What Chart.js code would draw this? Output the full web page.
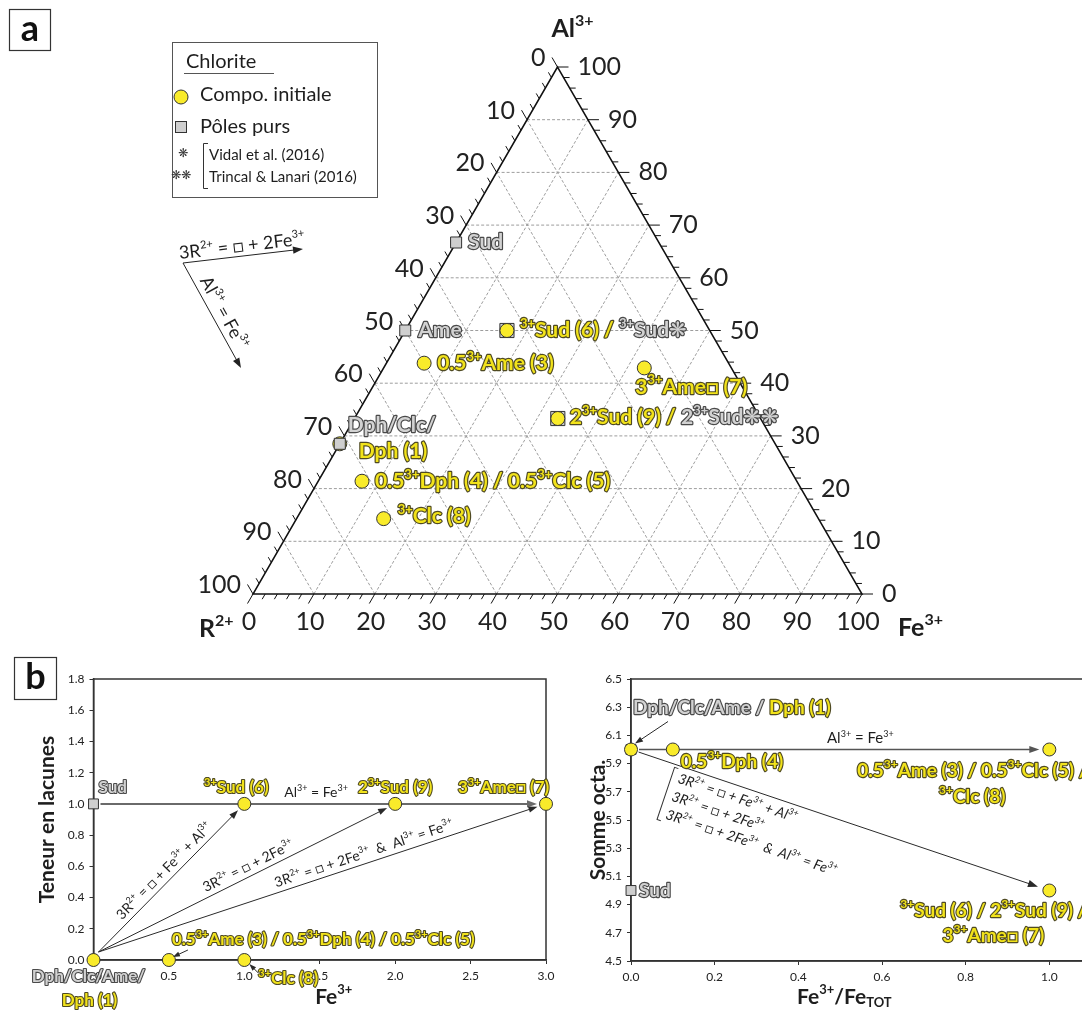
<!DOCTYPE html>
<html>
<head>
<meta charset="utf-8">
<script src="https://cdn.jsdelivr.net/npm/chart.js@4.4.1/dist/chart.umd.min.js"></script>
<style>
html, body { margin: 0; padding: 0; background: #fff; overflow: hidden; width: 1082px; height: 1016px; }
.p { position: absolute; }
</style>
</head>
<body>
<div class="p" style="left:0;top:0;width:1082px;height:645px"><canvas id="tern" width="1082" height="645"></canvas></div>
<div class="p" style="left:0;top:645px;width:565px;height:371px"><canvas id="lac" width="565" height="371"></canvas></div>
<div class="p" style="left:565px;top:645px;width:620px;height:371px"><canvas id="oct" width="620" height="371"></canvas></div>
<script>
// ---- a) ternaire R2+ - Al3+ - Fe3+ (%) ----
const initNoms = ['Dph (1)', '0.5^{3+}Ame (3)', '0.5^{3+}Dph (4) / 0.5^{3+}Clc (5)', '^{3+}Sud (6) / ', '3^{3+}Ame□ (7)', '^{3+}Clc (8)', '2^{3+}Sud (9) / '];
const initR  = [71.5, 50.0, 71.4, 33.3, 14.3, 71.4, 33.3];
const initAl = [28.5, 43.8, 21.4, 50.0, 42.9, 14.3, 33.3];
const initFe = [ 0.0,  6.2,  7.2, 16.7, 42.8, 14.3, 33.4];

const polesNoms = ['Sud', 'Ame', 'Dph/Clc/'];
const polesR  = [33.3, 50.0, 71.5];
const polesAl = [66.7, 50.0, 28.5];
const polesFe = [0, 0, 0];

const litNoms = ['^{3+}Sud❋', '2^{3+}Sud❋❋'];
const litR  = [33.3, 33.3];
const litAl = [50.0, 33.3];
const litFe = [16.7, 33.4];

const ternTicks = [0, 10, 20, 30, 40, 50, 60, 70, 80, 90, 100];

// ---- b) gauche : teneur en lacunes vs Fe3+ ----
const lacFe  = [0, 0.5, 1.0, 1.0, 2.0, 3.0];
const lacVal = [0, 0, 0, 1.0, 1.0, 1.0];
const lacSudFe = [0];
const lacSudVal = [1.0];
const lacTicksX = [0, 0.5, 1.0, 1.5, 2.0, 2.5, 3.0];
const lacTicksY = [0, 0.2, 0.4, 0.6, 0.8, 1.0, 1.2, 1.4, 1.6, 1.8];

// ---- b) droite : somme octa. vs Fe3+/FeTOT ----
const octRatio = [0, 0.1, 1.0, 1.0];
const octSomme = [6.0, 6.0, 6.0, 5.0];
const octPolesRatio = [0, 0];
const octPolesSomme = [6.0, 5.0];
const octTicksX = [0, 0.2, 0.4, 0.6, 0.8, 1.0];
const octTicksY = [4.5, 4.7, 4.9, 5.1, 5.3, 5.5, 5.7, 5.9, 6.1, 6.3, 6.5];

const FONT = "Lato, 'Open Sans', 'DejaVu Sans', sans-serif";
const JAUNE = '#f9eb2a';
const GRIS = '#cfcfcf';

const STY = {
  yel: { fill: '#f2e31b', stroke: '#4f4a22', weight: 'bold' },
  gry: { fill: '#d2d2d2', stroke: '#4a4a4a', weight: 'bold' },
  blk: { fill: '#1e1e1e', stroke: null, weight: 'normal' },
  bld: { fill: '#1e1e1e', stroke: null, weight: 'bold' }
};

// "^{..}" = exposant, "_{..}" = indice
function decoupe(s) {
  const out = []; let i = 0, buf = '';
  while (i < s.length) {
    if ((s[i] === '^' || s[i] === '_') && s[i + 1] === '{') {
      if (buf) { out.push({ t: buf, k: 'n' }); buf = ''; }
      const j = s.indexOf('}', i);
      out.push({ t: s.slice(i + 2, j), k: s[i] === '^' ? 'sup' : 'sub' });
      i = j + 1;
    } else { buf += s[i]; i++; }
  }
  if (buf) out.push({ t: buf, k: 'n' });
  return out;
}

function texte(ctx, morceaux, x, y, o) {
  o = o || {};
  const size = o.size || 18;
  const runs = [];
  morceaux.forEach(([mk, sk]) => decoupe(mk).forEach(r => runs.push(Object.assign(r, { st: STY[sk] }))));
  const police = r => (o.italic ? 'italic ' : '') + r.st.weight + ' ' +
    (r.k === 'n' ? size : Math.round(size * 0.62)) + 'px ' + FONT;
  ctx.save();
  ctx.translate(x, y);
  if (o.angle) ctx.rotate(o.angle);
  let w = 0;
  runs.forEach(r => { ctx.font = police(r); r.w = ctx.measureText(r.t).width; w += r.w; });
  const x0 = o.align === 'center' ? -w / 2 : o.align === 'right' ? -w : 0;
  ctx.textBaseline = 'middle'; ctx.textAlign = 'left'; ctx.lineJoin = 'round';
  ['stroke', 'fill'].forEach(pass => {
    let px = x0;
    runs.forEach(r => {
      ctx.font = police(r);
      const dy = r.k === 'sup' ? -size * 0.32 : r.k === 'sub' ? size * 0.3 : 0;
      if (pass === 'stroke' && r.st.stroke) {
        ctx.strokeStyle = r.st.stroke; ctx.lineWidth = o.lw || 2.4; ctx.strokeText(r.t, px, dy);
      }
      if (pass === 'fill') { ctx.fillStyle = r.st.fill; ctx.fillText(r.t, px, dy); }
      px += r.w;
    });
  });
  ctx.restore();
  return w;
}

function fleche(ctx, x1, y1, x2, y2, col, lw, head) {
  head = head || 9;
  const a = Math.atan2(y2 - y1, x2 - x1);
  ctx.save();
  ctx.strokeStyle = col; ctx.fillStyle = col; ctx.lineWidth = lw;
  ctx.beginPath(); ctx.moveTo(x1, y1);
  ctx.lineTo(x2 - Math.cos(a) * head * 0.7, y2 - Math.sin(a) * head * 0.7); ctx.stroke();
  ctx.beginPath(); ctx.moveTo(x2, y2);
  ctx.lineTo(x2 - head * Math.cos(a) + head * 0.36 * Math.sin(a), y2 - head * Math.sin(a) - head * 0.36 * Math.cos(a));
  ctx.lineTo(x2 - head * Math.cos(a) - head * 0.36 * Math.sin(a), y2 - head * Math.sin(a) + head * 0.36 * Math.cos(a));
  ctx.closePath(); ctx.fill();
  ctx.restore();
}

// fleche entre deux points avec un ecart au depart et a l'arrivee
function flecheEntre(ctx, p, q, g1, g2, col, lw, head) {
  const d = Math.hypot(q.x - p.x, q.y - p.y), ux = (q.x - p.x) / d, uy = (q.y - p.y) / d;
  fleche(ctx, p.x + ux * g1, p.y + uy * g1, q.x - ux * g2, q.y - uy * g2, col, lw, head);
}

function boite(ctx, lettre, x, y, s) {
  ctx.save();
  ctx.strokeStyle = '#333'; ctx.lineWidth = 1.2;
  ctx.strokeRect(x, y, s, s);
  ctx.fillStyle = '#111'; ctx.font = 'bold 36px ' + FONT;
  ctx.textAlign = 'center'; ctx.textBaseline = 'middle';
  ctx.fillText(lettre, x + s / 2, y + s / 2 - 1);
  ctx.restore();
}

// ternaire -> coordonnees cartesiennes (x = Fe + Al/2, y = Al)
function ternXY(r, al, fe) {
  const s = r + al + fe;
  return { x: (fe + al / 2) * 100 / s, y: al * 100 / s };
}
function ternPix(chart) {
  const xs = chart.scales.x, ys = chart.scales.y;
  return (r, al, fe) => {
    const t = ternXY(r, al, fe);
    return { x: xs.getPixelForValue(t.x), y: ys.getPixelForValue(t.y) };
  };
}

const pluginTernaire = {
  id: 'ternaire',
  beforeDatasetsDraw(chart) {
    const ctx = chart.ctx, P = ternPix(chart);
    const seg = (a, b) => { ctx.beginPath(); ctx.moveTo(a.x, a.y); ctx.lineTo(b.x, b.y); ctx.stroke(); };
    ctx.save();
    ctx.strokeStyle = '#9d9d9d'; ctx.lineWidth = 1; ctx.setLineDash([3, 2]);
    ternTicks.slice(1, -1).forEach(k => {
      seg(P(100 - k, k, 0), P(0, k, 100 - k));
      seg(P(100 - k, 0, k), P(0, 100 - k, k));
      seg(P(k, 0, 100 - k), P(k, 100 - k, 0));
    });
    ctx.setLineDash([]);
    ctx.strokeStyle = '#111'; ctx.lineWidth = 1.5;
    const A = P(0, 100, 0), B = P(100, 0, 0), C = P(0, 0, 100);
    ctx.beginPath(); ctx.moveTo(A.x, A.y); ctx.lineTo(B.x, B.y); ctx.lineTo(C.x, C.y); ctx.closePath(); ctx.stroke();
    // graduations
    ctx.lineWidth = 1;
    for (let v = 0; v <= 100; v += 2) {
      const L = v % 10 === 0 ? 11 : 6;
      const b = P(100 - v, 0, v), r = P(0, v, 100 - v), l = P(v, 100 - v, 0);
      seg(b, { x: b.x - 0.5 * L, y: b.y + 0.866 * L });
      seg(r, { x: r.x + L, y: r.y });
      seg(l, { x: l.x - 0.5 * L, y: l.y - 0.866 * L });
    }
    ctx.fillStyle = '#222'; ctx.font = '25px ' + FONT; ctx.textBaseline = 'middle';
    ternTicks.forEach(v => {
      const b = P(100 - v, 0, v), r = P(0, v, 100 - v), l = P(v, 100 - v, 0);
      ctx.textAlign = 'center'; ctx.fillText(String(v), b.x - 4, b.y + 28);
      ctx.textAlign = 'left'; ctx.fillText(String(v), r.x + 20, r.y);
      ctx.textAlign = 'right'; ctx.fillText(String(v), l.x - 12, l.y - 9);
    });
    ctx.restore();
    texte(ctx, [['Al^{3+}', 'bld']], A.x - 6, A.y - 38, { size: 25 });
    texte(ctx, [['R^{2+}', 'bld']], B.x - 54, B.y + 35, { size: 25 });
    texte(ctx, [['Fe^{3+}', 'bld']], C.x + 36, C.y + 34, { size: 25 });
  },
  afterDatasetsDraw(chart) {
    const ctx = chart.ctx, P = ternPix(chart);
    const pi = i => P(initR[i], initAl[i], initFe[i]);
    const pp = i => P(polesR[i], polesAl[i], polesFe[i]);
    const o = { size: 21 };
    // etiquettes des poles purs
    let q = pp(0); texte(ctx, [[polesNoms[0], 'gry']], q.x + 12, q.y, o);
    q = pp(1); texte(ctx, [[polesNoms[1], 'gry']], q.x + 13, q.y, o);
    q = pp(2); texte(ctx, [[polesNoms[2], 'gry']], q.x + 8, q.y - 19, o);
    // etiquettes des compositions initiales
    q = pi(0); texte(ctx, [[initNoms[0], 'yel']], q.x + 19, q.y + 7, o);
    q = pi(1); texte(ctx, [[initNoms[1], 'yel']], q.x + 13, q.y, o);
    q = pi(2); texte(ctx, [[initNoms[2], 'yel']], q.x + 13, q.y, o);
    q = pi(3); texte(ctx, [[initNoms[3], 'yel'], [litNoms[0], 'gry']], q.x + 13, q.y, o);
    q = pi(4); texte(ctx, [[initNoms[4], 'yel']], q.x - 9, q.y + 19, o);
    q = pi(5); texte(ctx, [[initNoms[5], 'yel']], q.x + 14, q.y - 2, o);
    q = pi(6); texte(ctx, [[initNoms[6], 'yel'], [litNoms[1], 'gry']], q.x + 12, q.y - 1, o);

    // legende
    ctx.save();
    ctx.strokeStyle = '#555'; ctx.lineWidth = 1;
    ctx.strokeRect(172.5, 42.5, 205, 155);
    ctx.fillStyle = '#1e1e1e'; ctx.font = '20px ' + FONT; ctx.textBaseline = 'middle'; ctx.textAlign = 'left';
    ctx.fillText('Chlorite', 186, 62);
    ctx.beginPath(); ctx.moveTo(184, 73.5); ctx.lineTo(274, 73.5); ctx.stroke();
    ctx.fillText('Compo. initiale', 200, 95);
    ctx.fillText('Pôles purs', 200, 127);
    ctx.beginPath(); ctx.arc(181, 97, 7, 0, Math.PI * 2);
    ctx.fillStyle = JAUNE; ctx.fill(); ctx.strokeStyle = '#333'; ctx.stroke();
    ctx.fillStyle = GRIS; ctx.fillRect(175.5, 121.5, 11, 11); ctx.strokeRect(175.5, 121.5, 11, 11);
    ctx.fillStyle = '#333'; ctx.font = '12px ' + FONT; ctx.textAlign = 'center';
    ctx.fillText('❋', 183, 153); ctx.fillText('❋❋', 181, 175);
    ctx.beginPath(); ctx.moveTo(208, 143.5); ctx.lineTo(203.5, 143.5); ctx.lineTo(203.5, 188.5); ctx.lineTo(208, 188.5); ctx.stroke();
    ctx.fillStyle = '#1e1e1e'; ctx.font = '15px ' + FONT; ctx.textAlign = 'left';
    ctx.fillText('Vidal et al. (2016)', 209, 155);
    ctx.fillText('Trincal & Lanari (2016)', 209, 177);
    ctx.restore();

    // vecteurs d'echange
    const O = { x: 183, y: 263 };
    fleche(ctx, O.x, O.y, 303, 249, '#222', 1, 10);
    fleche(ctx, O.x, O.y, 241, 368, '#222', 1, 10);
    texte(ctx, [['3R^{2+} = □ + 2Fe^{3+}', 'blk']], 242, 246, { size: 18, align: 'center', angle: Math.atan2(-14, 120) });
    texte(ctx, [['Al^{3+} = Fe^{3+}', 'blk']], 224, 313, { size: 18, align: 'center', angle: Math.atan2(105, 58) });

    boite(ctx, 'a', 9.5, 9.5, 41);
  }
};

new Chart(document.getElementById('tern'), {
  type: 'scatter',
  data: {
    datasets: [
      {
        label: 'Pôles purs',
        data: polesR.map((r, i) => ternXY(r, polesAl[i], polesFe[i])),
        pointStyle: 'rect', pointRadius: 7.8, backgroundColor: GRIS, borderColor: '#333', borderWidth: 1, clip: false
      },
      {
        label: 'Compo. initiale',
        data: initR.map((r, i) => ternXY(r, initAl[i], initFe[i])),
        pointStyle: 'circle', pointRadius: 7, backgroundColor: JAUNE, borderColor: '#333', borderWidth: 1, clip: false
      },
      {
        label: 'Littérature',
        data: litR.map((r, i) => ternXY(r, litAl[i], litFe[i])),
        pointStyle: 'rect', pointRadius: 10, backgroundColor: GRIS, borderColor: '#333', borderWidth: 1, clip: false
      }
    ]
  },
  options: {
    responsive: false,
    animation: false,
    layout: { autoPadding: false, padding: { left: 253, right: 220, top: 67, bottom: 51 } },
    plugins: { legend: { display: false }, tooltip: { enabled: false } },
    scales: {
      x: { type: 'linear', min: 0, max: 100, display: false },
      y: { type: 'linear', min: 0, max: 100, display: false }
    }
  },
  plugins: [pluginTernaire]
});

// ---- axes communs des deux graphiques du bas ----
function axe(min, max, ticks, taille, horizontal) {
  return {
    type: 'linear', min: min, max: max,
    afterBuildTicks: s => { s.ticks = ticks.map(v => ({ value: v })); },
    afterFit: s => { if (horizontal) s.height = taille; else s.width = taille; },
    ticks: { padding: 5, color: '#222', font: { family: FONT, size: 12 }, callback: v => v.toFixed(1) },
    grid: { display: true, drawOnChartArea: false, drawTicks: true, tickLength: 4, color: '#333' },
    border: { display: true, color: '#333', width: 1.5 }
  };
}

function cadre(chart) {
  const a = chart.chartArea, ctx = chart.ctx;
  ctx.save(); ctx.strokeStyle = '#333'; ctx.lineWidth = 1.5;
  ctx.strokeRect(a.left, a.top, a.right - a.left, a.bottom - a.top);
  ctx.restore();
}

const pluginLacunes = {
  id: 'lacunes',
  beforeDatasetsDraw(chart) {
    const ctx = chart.ctx, xs = chart.scales.x, ys = chart.scales.y;
    const P = (x, y) => ({ x: xs.getPixelForValue(x), y: ys.getPixelForValue(y) });
    cadre(chart);
    flecheEntre(ctx, P(lacSudFe[0], lacSudVal[0]), P(lacFe[5], lacVal[5]), 7, 9, '#6a6a6a', 2, 10);
    const o = P(lacFe[0], lacVal[0]);
    const dep = { x: o.x + 5, y: o.y - 8 };
    const eqs = ['3R^{2+} = □ + Fe^{3+} + Al^{3+}', '3R^{2+} = □ + 2Fe^{3+}', '3R^{2+} = □ + 2Fe^{3+}  &  Al^{3+} = Fe^{3+}'];
    const tt = [0.5, 0.52, 0.6];
    [3, 4, 5].forEach((k, j) => {
      const c = P(lacFe[k], lacVal[k]);
      flecheEntre(ctx, dep, c, 0, 9, '#2a2a2a', 1, 9);
      const dx = c.x - dep.x, dy = c.y - dep.y, d = Math.hypot(dx, dy);
      const mx = dep.x + dx * tt[j] + 10 * dy / d, my = dep.y + dy * tt[j] - 10 * dx / d;
      texte(ctx, [[eqs[j], 'blk']], mx, my, { size: 14, align: 'center', angle: Math.atan2(dy, dx) });
    });
  },
  afterDatasetsDraw(chart) {
    const ctx = chart.ctx, xs = chart.scales.x, ys = chart.scales.y, a = chart.chartArea;
    const P = (x, y) => ({ x: xs.getPixelForValue(x), y: ys.getPixelForValue(y) });
    const o = { size: 17, lw: 2.2 };
    let q = P(lacSudFe[0], lacSudVal[0]);
    texte(ctx, [['Sud', 'gry']], q.x + 5, q.y - 16, o);
    q = P(lacFe[3], lacVal[3]);
    texte(ctx, [['^{3+}Sud (6)', 'yel']], q.x - 8, q.y - 16, Object.assign({ align: 'center' }, o));
    texte(ctx, [['Al^{3+} = Fe^{3+}', 'blk']], q.x + 40, q.y - 11, { size: 14 });
    q = P(lacFe[4], lacVal[4]);
    texte(ctx, [['2^{3+}Sud (9)', 'yel']], q.x, q.y - 16, Object.assign({ align: 'center' }, o));
    q = P(lacFe[5], lacVal[5]);
    texte(ctx, [['3^{3+}Ame□ (7)', 'yel']], q.x - 88, q.y - 16, o);
    q = P(lacFe[1], lacVal[1]);
    texte(ctx, [['0.5^{3+}Ame (3) / 0.5^{3+}Dph (4) / 0.5^{3+}Clc (5)', 'yel']], q.x + 3, q.y - 20, o);
    fleche(ctx, q.x + 19, q.y - 10, q.x + 4, q.y - 3, '#2a2a2a', 1, 7);
    q = P(lacFe[2], lacVal[2]);
    texte(ctx, [['^{3+}Clc (8)', 'yel']], q.x + 14, q.y + 19, o);
    fleche(ctx, q.x + 14, q.y + 13, q.x + 5, q.y + 4, '#2a2a2a', 1, 7);
    q = P(lacFe[0], lacVal[0]);
    texte(ctx, [['Dph/Clc/Ame/', 'gry']], q.x - 5, q.y + 17, Object.assign({ align: 'center' }, o));
    texte(ctx, [['Dph (1)', 'yel']], q.x - 4, q.y + 41, Object.assign({ align: 'center' }, o));
    // titres des axes
    texte(ctx, [['Teneur en lacunes', 'bld']], a.left - 46, (a.top + a.bottom) / 2, { size: 21, align: 'center', angle: -Math.PI / 2 });
    texte(ctx, [['Fe^{3+}', 'bld']], (a.left + a.right) / 2 + 14, a.bottom + 37, { size: 21, align: 'center' });
    boite(ctx, 'b', 14.5, 12.5, 42);
  }
};

new Chart(document.getElementById('lac'), {
  type: 'scatter',
  data: {
    datasets: [
      {
        label: 'Pôles purs',
        data: lacSudFe.map((x, i) => ({ x: x, y: lacSudVal[i] })),
        pointStyle: 'rect', pointRadius: 7, backgroundColor: GRIS, borderColor: '#333', borderWidth: 1, clip: false
      },
      {
        label: 'Compo. initiale',
        data: lacFe.map((x, i) => ({ x: x, y: lacVal[i] })),
        pointStyle: 'circle', pointRadius: 6.5, backgroundColor: JAUNE, borderColor: '#333', borderWidth: 1, clip: false
      }
    ]
  },
  options: {
    responsive: false,
    animation: false,
    layout: { autoPadding: false, padding: { left: 0, right: 19, top: 34, bottom: 0 } },
    plugins: { legend: { display: false }, tooltip: { enabled: false } },
    scales: {
      x: axe(0, 3, lacTicksX, 56, true),
      y: axe(0, 1.8, lacTicksY, 93.5, false)
    }
  },
  plugins: [pluginLacunes]
});

const pluginOcta = {
  id: 'octa',
  beforeDatasetsDraw(chart) {
    const ctx = chart.ctx, xs = chart.scales.x, ys = chart.scales.y;
    const P = (x, y) => ({ x: xs.getPixelForValue(x), y: ys.getPixelForValue(y) });
    cadre(chart);
    const o = P(octRatio[0], octSomme[0]);
    flecheEntre(ctx, o, P(octRatio[2], octSomme[2]), 8, 10, '#555', 1.5, 10);
    const f = P(octRatio[3], octSomme[3]);
    flecheEntre(ctx, o, f, 8, 12, '#2a2a2a', 1, 10);
    // equations en italique le long de la diagonale
    const ang = Math.atan2(f.y - o.y, f.x - o.x);
    ctx.save();
    ctx.translate(o.x, o.y); ctx.rotate(ang);
    ctx.strokeStyle = '#333'; ctx.lineWidth = 1;
    ctx.beginPath(); ctx.moveTo(51, 3); ctx.lineTo(47, 3); ctx.lineTo(47, 58); ctx.lineTo(51, 58); ctx.stroke();
    ctx.restore();
    const eqs = ['3R^{2+} = □ + Fe^{3+} + Al^{3+}', '3R^{2+} = □ + 2Fe^{3+}', '3R^{2+} = □ + 2Fe^{3+}  &  Al^{3+} = Fe^{3+}'];
    [12, 31, 50].forEach((v, j) => {
      const u = 54;
      const x = o.x + u * Math.cos(ang) - v * Math.sin(ang);
      const y = o.y + u * Math.sin(ang) + v * Math.cos(ang);
      texte(ctx, [[eqs[j], 'blk']], x, y, { size: 14, italic: true, angle: ang });
    });
  },
  afterDatasetsDraw(chart) {
    const ctx = chart.ctx, xs = chart.scales.x, ys = chart.scales.y, a = chart.chartArea;
    const P = (x, y) => ({ x: xs.getPixelForValue(x), y: ys.getPixelForValue(y) });
    const o = { size: 19, lw: 2.3 };
    const oc = Object.assign({ align: 'center' }, o);
    let q = P(octRatio[0], octSomme[0]);
    texte(ctx, [['Dph/Clc/Ame / ', 'gry'], ['Dph (1)', 'yel']], q.x + 2, q.y - 42, o);
    fleche(ctx, q.x + 37, q.y - 28, q.x + 4, q.y - 6, '#2a2a2a', 1, 8);
    texte(ctx, [['Al^{3+} = Fe^{3+}', 'blk']], q.x + 196, q.y - 11, { size: 15 });
    q = P(octRatio[1], octSomme[1]);
    texte(ctx, [['0.5^{3+}Dph (4)', 'yel']], q.x + 8, q.y + 12, o);
    q = P(octRatio[2], octSomme[2]);
    texte(ctx, [['0.5^{3+}Ame (3) / 0.5^{3+}Clc (5) /', 'yel']], q.x - 77, q.y + 21, oc);
    texte(ctx, [['^{3+}Clc (8)', 'yel']], q.x - 77, q.y + 47, oc);
    q = P(octPolesRatio[1], octPolesSomme[1]);
    texte(ctx, [['Sud', 'gry']], q.x + 8, q.y, o);
    q = P(octRatio[3], octSomme[3]);
    texte(ctx, [['^{3+}Sud (6) / 2^{3+}Sud (9) /', 'yel']], q.x - 56, q.y + 20, oc);
    texte(ctx, [['3^{3+}Ame□ (7)', 'yel']], q.x - 56, q.y + 45, oc);
    // titres des axes
    texte(ctx, [['Somme octa.', 'bld']], a.left - 33, (a.top + a.bottom) / 2, { size: 21, align: 'center', angle: -Math.PI / 2 });
    texte(ctx, [['Fe^{3+}/Fe_{TOT}', 'bld']], P(0.51, 0).x, a.bottom + 36, { size: 21, align: 'center' });
  }
};

new Chart(document.getElementById('oct'), {
  type: 'scatter',
  data: {
    datasets: [
      {
        label: 'Compo. initiale',
        data: octRatio.map((x, i) => ({ x: x, y: octSomme[i] })),
        pointStyle: 'circle', pointRadius: 6.5, backgroundColor: JAUNE, borderColor: '#333', borderWidth: 1, clip: false
      },
      {
        label: 'Pôles purs',
        data: octPolesRatio.map((x, i) => ({ x: x, y: octPolesSomme[i] })),
        pointStyle: 'rect', pointRadius: 7, backgroundColor: GRIS, borderColor: '#333', borderWidth: 1, clip: false
      }
    ]
  },
  options: {
    responsive: false,
    animation: false,
    layout: { autoPadding: false, padding: { left: 0, right: 52, top: 34, bottom: 0 } },
    plugins: { legend: { display: false }, tooltip: { enabled: false } },
    scales: {
      x: axe(0, 1.2, octTicksX, 55, true),
      y: axe(4.5, 6.5, octTicksY, 66, false)
    }
  },
  plugins: [pluginOcta]
});
</script>
</body>
</html>
